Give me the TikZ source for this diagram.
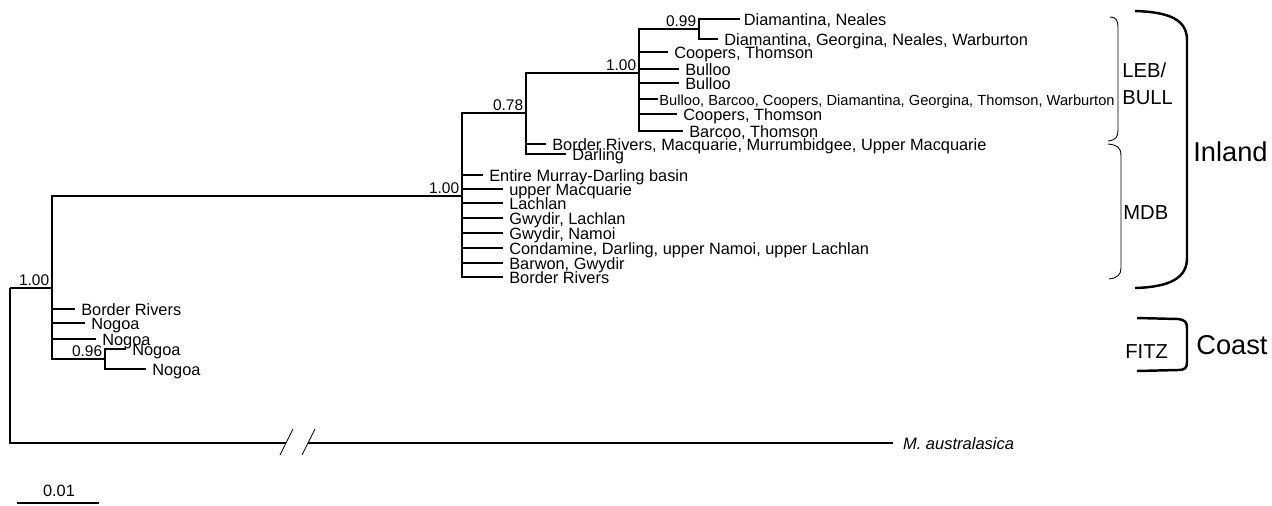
\documentclass[tikz,border=0pt]{standalone}
\usepackage{fontspec}
\setmainfont{Liberation Sans}
\tikzstyle{branch} = [line width=0.8pt]
\tikzstyle{leaf} = [
    anchor=west,
    inner xsep=3.4pt,
    inner ysep=0.5pt,
    text height=9.2pt,
    text depth=1.4pt,
    font=\fontsize{9.3}{10}\selectfont
]
\tikzstyle{support} = [
    anchor=south east,
    inner sep=1.4pt,
    font=\fontsize{8.8}{10}\selectfont
]
\tikzstyle{grouplabel} = [
    anchor=west,
    inner sep=0pt,
    align=left,
    font=\fontsize{11.5}{15.3}\selectfont
]
\tikzstyle{regionlabel} = [
    anchor=west,
    inner sep=0pt,
    font=\fontsize{15.5}{18}\selectfont
]
\tikzstyle{thinbrace} = [line width=0.5pt]
\tikzstyle{thickbrace} = [line width=1.4pt]

\begin{document}
\begin{tikzpicture}[x=0.02cm, y=-0.02cm]
\useasboundingbox (0,0) rectangle (1272,505);

% internal nodes
\coordinate (root) at (10,288);
\coordinate (ingroup) at (52,288);
\coordinate (inland) at (462,196);
\coordinate (n078) at (526,113);
\coordinate (lebbull) at (639,73);
\coordinate (n099) at (699,29);
\coordinate (n096) at (105,359);
\coordinate (brkA) at (286,443);
\coordinate (brkB) at (308,443);

% LEB/BULL leaves
\node[leaf, inner xsep=2pt] (dianea) at (740,19) {Diamantina, Neales};
\node[leaf] (diageo) at (718,39) {Diamantina, Georgina, Neales, Warburton};
\node[leaf] (cootho1) at (668,52) {Coopers, Thomson};
\node[leaf] (bul1) at (679,69) {Bulloo};
\node[leaf] (bul2) at (679,83) {Bulloo};
\node[leaf, inner xsep=0.6pt, font=\fontsize{8.35}{9}\selectfont] (bulall) at (658,99)
{Bulloo, Barcoo, Coopers, Diamantina, Georgina, Thomson, Warburton};
\node[leaf] (cootho2) at (677,114) {Coopers, Thomson};
\node[leaf] (bartho) at (683,131) {Barcoo, Thomson};

% MDB leaves
\node[leaf] (brmac) at (546,144) {Border Rivers, Macquarie, Murrumbidgee, Upper Macquarie};
\node[leaf] (darl) at (566,154) {Darling};
\node[leaf] (emdb) at (483,175) {Entire Murray-Darling basin};
\node[leaf] (umac) at (503,189) {upper Macquarie};
\node[leaf] (lach) at (503,203) {Lachlan};
\node[leaf] (gwla) at (503,218) {Gwydir, Lachlan};
\node[leaf] (gwna) at (503,233) {Gwydir, Namoi};
\node[leaf] (cond) at (503,248) {Condamine, Darling, upper Namoi, upper Lachlan};
\node[leaf] (barg) at (503,263) {Barwon, Gwydir};
\node[leaf] (bord1) at (503,277) {Border Rivers};

% FITZ leaves
\node[leaf] (bord2) at (75,309) {Border Rivers};
\node[leaf] (nog1) at (85,323) {Nogoa};
\node[leaf] (nog2) at (96,339) {Nogoa};
\node[leaf] (nog3) at (126,349) {Nogoa};
\node[leaf] (nog4) at (146,369) {Nogoa};

% outgroup
\node[leaf, inner xsep=5.5pt, font=\fontsize{9.4}{10}\selectfont\itshape] (maus) at (893,443) {M. australasica};

% support values
\node[support] (s1) at (ingroup) {1.00};
\node[support] (s2) at (inland) {1.00};
\node[support] (s3) at (n078) {0.78};
\node[support] (s4) at (lebbull) {1.00};
\node[support] (s5) at (n099) {0.99};
\node[support] (s6) at (n096) {0.96};

% branches
\draw[branch] (root) -- (ingroup);
\draw[branch] (root) |- (brkA);
\draw[branch] (brkB) -- (maus);
\foreach \c in {inland, bord2, nog1, nog2, n096}
    \draw[branch] (ingroup) |- (\c);
\foreach \c in {nog3, nog4}
    \draw[branch] (n096) |- (\c);
\foreach \c in {n078, emdb, umac, lach, gwla, gwna, cond, barg, bord1}
    \draw[branch] (inland) |- (\c);
\foreach \c in {lebbull, brmac, darl}
    \draw[branch] (n078) |- (\c);
\foreach \c in {n099, cootho1, bul1, bul2, bulall, cootho2, bartho}
    \draw[branch] (lebbull) |- (\c);
\foreach \c in {dianea, diageo}
    \draw[branch] (n099) |- (\c);

% break in the outgroup branch
\draw[thinbrace] (brkA) ++(-6,12) -- ++(13,-26);
\draw[thinbrace] (brkB) ++(-6,12) -- ++(13,-26);

% braces
\draw[thinbrace] (1110,17) .. controls (1116,17) and (1118,20) .. (1118,28)
    -- (1118,130) .. controls (1118,137) and (1116,140) .. (1108,141);
\draw[thinbrace] (1108,144) .. controls (1117,145) and (1121,147) .. (1121,156)
    -- (1121,268) .. controls (1121,275) and (1117,278) .. (1109,279);
\draw[thickbrace] (1135,11) .. controls (1170,12) and (1187,20) .. (1187,40)
    -- (1187,258) .. controls (1187,278) and (1170,287) .. (1135,288);
\draw[thickbrace] (1137,318) -- (1178,319) .. controls (1185,320) and (1187,322) .. (1187,328)
    -- (1187,362) .. controls (1187,368) and (1185,370) .. (1178,370) -- (1137,371);

\node[grouplabel] (lebl) at (1122,83.5) {LEB/\\BULL};
\node[grouplabel] (mdbl) at (1123,213) {MDB};
\node[grouplabel] (fitzl) at (1125,352) {FITZ};
\node[regionlabel] (inl) at (1193,152) {Inland};
\node[regionlabel] (coastl) at (1196,345) {Coast};

% scale bar
\node[font=\fontsize{9.3}{10}\selectfont] (scl) at (59,491) {0.01};
\coordinate (sbL) at (17,503);
\coordinate (sbR) at (99,503);
\draw[branch] (sbL) -- (sbR);

\end{tikzpicture}
\end{document}
